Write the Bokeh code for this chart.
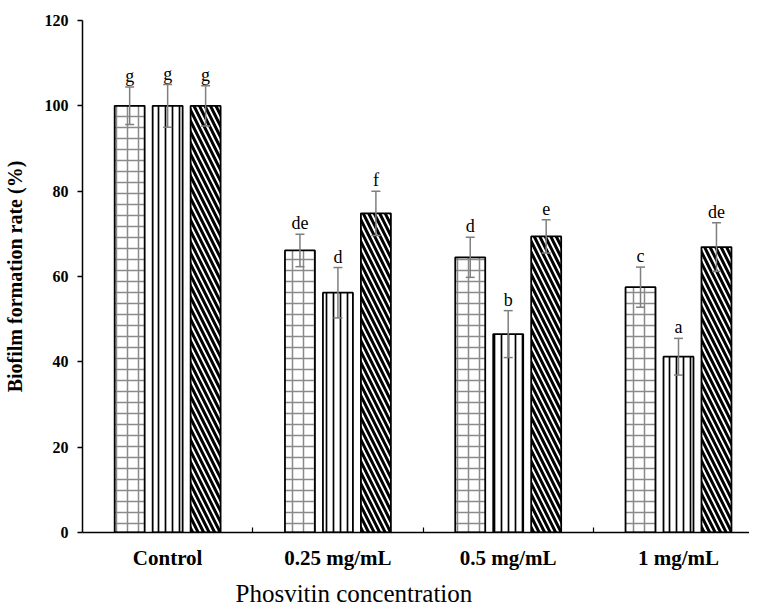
from bokeh.plotting import figure
from bokeh.models import ColumnDataSource, Whisker, FixedTicker, Title, TeeHead
from bokeh.core.properties import value
from bokeh.embed import file_html
from bokeh.resources import INLINE

groups = ["Control", "0.25 mg/mL", "0.5 mg/mL", "1 mg/mL"]
s1 = [100, 66.1, 64.5, 57.5]
s1_err = [4.4, 3.8, 4.7, 4.7]
s1_lab = ["g", "de", "d", "c"]
s2 = [100, 56.2, 46.5, 41.2]
s2_err = [5.0, 5.9, 5.5, 4.3]
s2_lab = ["g", "d", "b", "a"]
s3 = [100, 74.8, 69.4, 66.9]
s3_err = [4.7, 5.2, 3.9, 5.7]
s3_lab = ["g", "f", "e", "de"]
y_ticks = [0, 20, 40, 60, 80, 100, 120]

SERIF = "Liberation Serif"
GAP = 0.223
BW = 0.176

p = figure(width=749, height=611, x_range=(0, 3.917), y_range=(0, 120),
           output_backend="svg", toolbar_location=None,
           min_border_left=82, min_border_right=0, min_border_top=20, min_border_bottom=79)
p.outline_line_color = None
p.xgrid.visible = False
p.ygrid.visible = False
p.background_fill_color = "white"

series = [
    (s1, s1_err, s1_lab, -GAP, dict(hatch_pattern="+", hatch_color="#8a8a8a", hatch_scale=11, hatch_weight=1.5)),
    (s2, s2_err, s2_lab, 0.0, dict(hatch_pattern="|", hatch_color="black", hatch_scale=7, hatch_weight=1.7)),
    (s3, s3_err, s3_lab, GAP, dict(hatch_pattern="\\", hatch_color="black", hatch_scale=11, hatch_weight=3)),
]

for vals, errs, labs, off, hatch in series:
    xs = [i + 0.5 + off for i in range(len(groups))]
    src = ColumnDataSource(dict(
        x=xs, top=vals,
        upper=[v + e for v, e in zip(vals, errs)],
        lower=[v - e for v, e in zip(vals, errs)],
        lab=labs,
    ))
    p.vbar(x="x", top="top", bottom=0, width=BW, source=src,
           fill_color="white", line_color="black", line_width=1.8, **hatch)
    w = Whisker(base="x", upper="upper", lower="lower", source=src,
                line_color="#7f7f7f", line_width=1.5, level="annotation",
                upper_head=TeeHead(size=9, line_color="#7f7f7f", line_width=1.5),
                lower_head=TeeHead(size=9, line_color="#7f7f7f", line_width=1.5))
    p.add_layout(w)
    p.text(x="x", y="upper", text="lab", source=src, text_align="center",
           text_baseline="alphabetic", y_offset=-11,
           text_font=value(SERIF), text_font_size="18px", text_color="black")

# x axis
xa = p.xaxis[0]
xa.ticker = FixedTicker(ticks=[i + 0.5 for i in range(len(groups))], minor_ticks=[1, 2, 3])
xa.major_label_overrides = {i + 0.5: g for i, g in enumerate(groups)}
xa.major_tick_in = 0
xa.major_tick_out = 0
xa.minor_tick_in = 5
xa.minor_tick_out = 0
xa.minor_tick_line_color = "black"
xa.minor_tick_line_width = 1.2
xa.axis_line_color = "black"
xa.axis_line_width = 1.5
xa.major_label_text_font = SERIF
xa.major_label_text_font_style = "bold"
xa.major_label_text_font_size = "21px"
xa.major_label_text_color = "black"
xa.major_label_standoff = 13

# y axis
ya = p.yaxis[0]
ya.ticker = FixedTicker(ticks=y_ticks, minor_ticks=[])
ya.major_tick_in = 0
ya.major_tick_out = 5
ya.major_tick_line_width = 1.5
ya.minor_tick_line_color = None
ya.axis_line_color = "black"
ya.axis_line_width = 1.5
ya.major_label_text_font = SERIF
ya.major_label_text_font_style = "bold"
ya.major_label_text_font_size = "16px"
ya.major_label_text_color = "black"
ya.major_label_standoff = 9
ya.axis_label = "Biofilm formation rate (%)"
ya.axis_label_text_font = SERIF
ya.axis_label_text_font_style = "bold"
ya.axis_label_text_font_size = "20px"
ya.axis_label_text_color = "black"
ya.axis_label_standoff = 16

p.add_layout(Title(text="Phosvitin concentration", align="left", offset=153,
                   standoff=10, text_font=SERIF, text_font_style="normal",
                   text_font_size="25px", text_color="black"), "below")

open("out.html", "w").write(file_html(p, INLINE))
